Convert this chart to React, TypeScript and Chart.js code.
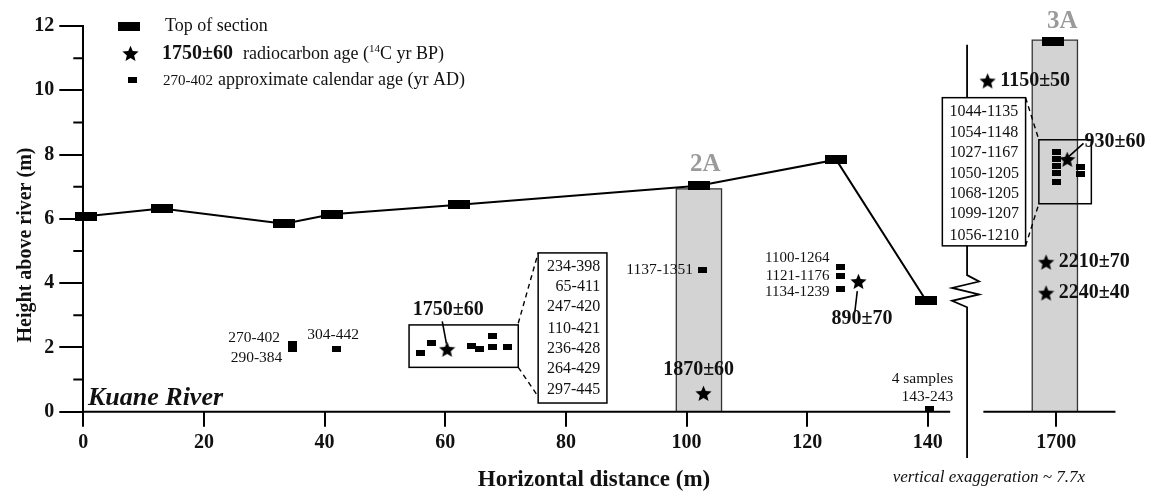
import React, { useEffect, useRef } from 'react';
import { Chart, registerables } from 'chart.js';

Chart.register(...registerables);

// ---------- axis / break ----------
const X_TICKS = [0, 20, 40, 60, 80, 100, 120, 140];
const BREAK_TICK = 1700;
const BREAK_PLOT = 161.3; // plot position of the 1700 m tick (broken axis)
const toPlotX = (x: number) => (x >= 1000 ? x - BREAK_TICK + BREAK_PLOT : x);

// ---------- top of section profile ----------
const sectionX = [0.5, 13.0, 33.3, 41.2, 62.3, 102.0, 124.8, 139.7];
const sectionY = [6.08, 6.32, 5.85, 6.14, 6.44, 7.03, 7.84, 3.46];
const section3AX = [1699.4];
const section3AY = [11.53];

// ---------- measured sections (columns) ----------
const columnNames = ['2A', '3A'];
const columnLeft = [98.3, 1696.0];
const columnRight = [105.8, 1703.5];
const columnTop = [6.93, 11.56];

// ---------- radiocarbon ages ----------
const c14Labels = ['1750±60', '1870±60', '890±70', '1150±50', '930±60', '2210±70', '2240±40'];
const c14X = [60.3, 102.8, 128.5, 1688.6, 1701.8, 1698.3, 1698.3];
const c14Y = [1.94, 0.57, 4.05, 10.29, 7.85, 4.65, 3.69];

// ---------- calendar ages (markers) ----------
const calX = [34.6, 34.6, 41.9, 55.9, 57.7, 64.4, 65.7, 67.9, 67.9, 70.3, 102.7, 125.5, 125.5, 125.5, 140.2,
  1700, 1700, 1700, 1700, 1700, 1704, 1704];
const calY = [2.12, 1.95, 1.94, 1.84, 2.13, 2.05, 1.94, 2.36, 2.02, 2.02, 4.41, 4.49, 4.23, 3.82, 0.08,
  8.07, 7.86, 7.65, 7.42, 7.16, 7.62, 7.40];

// calendar age labels
const cal35Labels = ['270-402', '290-384'];
const cal42Labels = ['304-442'];
const cal60Labels = ['234-398', '65-411', '247-420', '110-421', '236-428', '264-429', '297-445'];
const cal2ALabels = ['1137-1351'];
const cal125Labels = ['1100-1264', '1121-1176', '1134-1239'];
const cal140Labels = ['4 samples', '143-243'];
const cal3ALabels = ['1044-1135', '1054-1148', '1027-1167', '1050-1205', '1068-1205', '1099-1207', '1056-1210'];

const SERIF = "'Liberation Serif', 'DejaVu Serif', serif";

function makeRect(w: number, h: number) {
  const c = document.createElement('canvas');
  c.width = w; c.height = h;
  const g = c.getContext('2d')!;
  g.fillStyle = '#000';
  g.fillRect(0, 0, w, h);
  return c;
}
function makeStar(size: number) {
  const c = document.createElement('canvas');
  c.width = size; c.height = size;
  const g = c.getContext('2d')!;
  const cx = size / 2, cy = size / 2 + 0.7, R = size / 2, r = R * 0.45;
  g.beginPath();
  for (let i = 0; i < 10; i++) {
    const rad = i % 2 === 0 ? R : r;
    const a = -Math.PI / 2 + (i * Math.PI) / 5;
    const x = cx + rad * Math.cos(a), y = cy + rad * Math.sin(a);
    if (i === 0) g.moveTo(x, y); else g.lineTo(x, y);
  }
  g.closePath();
  g.fillStyle = '#000';
  g.fill();
  return c;
}

export default function App() {
  const ref = useRef<HTMLCanvasElement | null>(null);

  useEffect(() => {
    const canvas = ref.current!;
    const bigRect = makeRect(22, 9);
    const smallRect = makeRect(9, 6);
    const star = makeStar(17);

    const colDatasets = columnNames.map((_, i) => ({
      label: 'col' + i,
      data: [
        { x: toPlotX(columnLeft[i]), y: 0 },
        { x: toPlotX(columnLeft[i]), y: columnTop[i] },
        { x: toPlotX(columnRight[i]), y: columnTop[i] },
        { x: toPlotX(columnRight[i]), y: 0 },
      ],
      showLine: true,
      fill: 'origin',
      backgroundColor: '#d3d3d3',
      borderColor: '#333',
      borderWidth: 1.3,
      pointRadius: 0,
      tension: 0,
      order: 10,
      clip: false,
    }));

    const annotPlugin = {
      id: 'annot',
      afterDraw(chart: any) {
        const ctx = chart.ctx as CanvasRenderingContext2D;
        const xs = chart.scales.x, ys = chart.scales.y;
        const px = (x: number) => xs.getPixelForValue(toPlotX(x));
        const ppx = (v: number) => xs.getPixelForValue(v);
        const py = (y: number) => ys.getPixelForValue(y);
        ctx.save();
        ctx.strokeStyle = '#000';
        ctx.fillStyle = '#111';

        // x axis lines (broken)
        ctx.lineWidth = 2;
        ctx.beginPath();
        ctx.moveTo(ppx(0), py(0)); ctx.lineTo(ppx(143.7), py(0));
        ctx.moveTo(px(1687.9), py(0)); ctx.lineTo(px(1709.8), py(0));
        ctx.stroke();

        // minor y ticks
        ctx.lineWidth = 2;
        ctx.beginPath();
        for (let v = 1; v < 12; v += 2) {
          ctx.moveTo(ppx(0) - 10, py(v)); ctx.lineTo(ppx(0), py(v));
        }
        ctx.stroke();

        // break line with zigzag
        const bx = ppx(146.5);
        const zt = py(4.25), zb = py(3.25);
        const zh = zb - zt;
        ctx.lineWidth = 1.8;
        ctx.lineJoin = 'miter';
        ctx.beginPath();
        ctx.moveTo(bx, py(11.42));
        ctx.lineTo(bx, zt);
        ctx.lineTo(bx + 12, zt + zh * 0.2);
        ctx.lineTo(bx - 15, zt + zh * 0.4);
        ctx.lineTo(bx + 12, zt + zh * 0.6);
        ctx.lineTo(bx - 15, zt + zh * 0.8);
        ctx.lineTo(bx, zb);
        ctx.lineTo(bx, py(-1.44));
        ctx.stroke();

        // boxes
        const rect = (x1: number, y1: number, x2: number, y2: number, fill: boolean) => {
          const X1 = px(x1), X2 = px(x2), Y1 = py(y1), Y2 = py(y2);
          if (fill) { ctx.fillStyle = '#fff'; ctx.fillRect(X1, Y1, X2 - X1, Y2 - Y1); }
          ctx.lineWidth = 1.5;
          ctx.strokeStyle = '#000';
          ctx.strokeRect(X1, Y1, X2 - X1, Y2 - Y1);
        };
        const dashed = (x1: number, y1: number, x2: number, y2: number) => {
          ctx.save();
          ctx.setLineDash([5, 4]);
          ctx.lineWidth = 1.4;
          ctx.beginPath(); ctx.moveTo(px(x1), py(y1)); ctx.lineTo(px(x2), py(y2)); ctx.stroke();
          ctx.restore();
        };
        const line = (x1: number, y1: number, x2: number, y2: number) => {
          ctx.lineWidth = 1.6;
          ctx.beginPath(); ctx.moveTo(px(x1), py(y1)); ctx.lineTo(px(x2), py(y2)); ctx.stroke();
        };

        rect(54.0, 2.70, 72.1, 1.38, false);
        rect(75.4, 4.94, 86.8, 0.27, true);
        dashed(72.1, 2.75, 75.4, 4.94);
        dashed(72.1, 1.38, 75.3, 0.5);
        rect(1681.1, 9.77, 1694.9, 5.16, true);
        rect(1697.1, 8.46, 1705.8, 6.47, false);
        dashed(1694.9, 9.77, 1697.1, 8.46);
        dashed(1694.9, 5.16, 1697.1, 6.47);

        line(59.5, 2.81, 60.2, 2.12);
        line(127.9, 3.11, 128.3, 3.75);
        line(1702.0, 7.93, 1704.5, 8.35);

        // texts
        const txt = (s: string, x: number, y: number, align: CanvasTextAlign, font: string, color = '#111') => {
          ctx.font = font;
          ctx.fillStyle = color;
          ctx.textAlign = align;
          ctx.textBaseline = 'middle';
          ctx.fillText(s, px(x), py(y));
        };
        const small = `15.5px ${SERIF}`;
        const boxF = `16px ${SERIF}`;
        const bold = `bold 20px ${SERIF}`;
        txt(cal35Labels[0], 32.6, 2.29, 'right', small);
        txt(cal35Labels[1], 33.0, 1.67, 'right', small);
        txt(cal42Labels[0], 41.4, 2.39, 'center', small);
        const box60Y = [4.51, 3.89, 3.27, 2.59, 1.97, 1.32, 0.68];
        cal60Labels.forEach((s, i) => txt(s, 85.7, box60Y[i], 'right', boxF));
        txt(cal2ALabels[0], 101.05, 4.41, 'right', small);
        const c125Y = [4.78, 4.22, 3.72];
        cal125Labels.forEach((s, i) => txt(s, 123.7, c125Y[i], 'right', `15px ${SERIF}`));
        txt(cal140Labels[0], 144.2, 1.02, 'right', small);
        txt(cal140Labels[1], 144.2, 0.46, 'right', small);
        const box3AY = [9.32, 8.69, 8.04, 7.40, 6.78, 6.16, 5.48];
        cal3ALabels.forEach((s, i) => txt(s, 1682.3, box3AY[i], 'left', boxF));

        txt(c14Labels[0], 60.5, 3.16, 'center', bold);
        txt(c14Labels[1], 102.0, 1.30, 'center', bold);
        txt(c14Labels[2], 129.1, 2.88, 'center', bold);
        txt(c14Labels[3], 1690.7, 10.29, 'left', bold);
        txt(c14Labels[4], 1704.65, 8.40, 'left', bold);
        txt(c14Labels[5], 1700.4, 4.65, 'left', bold);
        txt(c14Labels[6], 1700.4, 3.69, 'left', bold);

        txt(columnNames[0], 103.1, 7.70, 'center', `bold 25px ${SERIF}`, '#9a9a9a');
        txt(columnNames[1], 1701.0, 12.13, 'center', `bold 25px ${SERIF}`, '#9a9a9a');

        // Kuane River
        ctx.font = `italic bold 26px ${SERIF}`;
        ctx.fillStyle = '#111';
        ctx.textAlign = 'left';
        ctx.textBaseline = 'alphabetic';
        ctx.fillText('Kuane River', 88, 405);

        // axis titles
        ctx.font = `bold 23px ${SERIF}`;
        ctx.textAlign = 'center';
        ctx.textBaseline = 'middle';
        ctx.fillText('Horizontal distance (m)', 594, 480);
        ctx.save();
        ctx.translate(26, 245);
        ctx.rotate(-Math.PI / 2);
        ctx.font = `bold 20px ${SERIF}`;
        ctx.fillText('Height above river (m)', 0, 0);
        ctx.restore();

        ctx.font = `italic 17px ${SERIF}`;
        ctx.textAlign = 'right';
        ctx.fillText('vertical exaggeration ~ 7.7x', 1085, 478);

        // legend
        ctx.drawImage(bigRect, 118, 22);
        ctx.drawImage(star, 122, 45);
        ctx.drawImage(smallRect, 128, 77);
        ctx.textAlign = 'left';
        ctx.font = `18px ${SERIF}`;
        ctx.fillText('Top of section', 165, 26);
        ctx.font = `bold 20px ${SERIF}`;
        ctx.fillText('1750±60', 162, 54);
        ctx.font = `18px ${SERIF}`;
        let lx = 243;
        ctx.fillText('radiocarbon age (', lx, 54);
        lx += ctx.measureText('radiocarbon age (').width;
        ctx.font = `11px ${SERIF}`;
        ctx.fillText('14', lx, 49);
        lx += ctx.measureText('14').width;
        ctx.font = `18px ${SERIF}`;
        ctx.fillText('C yr BP)', lx, 54);
        ctx.font = `15px ${SERIF}`;
        ctx.fillText('270-402', 163, 81);
        ctx.font = `18px ${SERIF}`;
        ctx.fillText('approximate calendar age (yr AD)', 218, 80);

        ctx.restore();
      },
    };

    const chart = new Chart(canvas, {
      type: 'scatter',
      data: {
        datasets: [
          ...colDatasets,
          {
            label: 'Top of section',
            data: sectionX.map((x, i) => ({ x: toPlotX(x), y: sectionY[i] })),
            showLine: true,
            borderColor: '#000',
            borderWidth: 2,
            pointStyle: bigRect,
            pointRadius: 6,
            tension: 0,
            order: 5,
            clip: false,
          },
          {
            label: 'Top of section 3A',
            data: section3AX.map((x, i) => ({ x: toPlotX(x), y: section3AY[i] })),
            showLine: false,
            pointStyle: bigRect,
            pointRadius: 6,
            order: 5,
            clip: false,
          },
          {
            label: 'calendar age',
            data: calX.map((x, i) => ({ x: toPlotX(x), y: calY[i] })),
            showLine: false,
            pointStyle: smallRect,
            pointRadius: 4,
            order: 2,
            clip: false,
          },
          {
            label: 'radiocarbon age',
            data: c14X.map((x, i) => ({ x: toPlotX(x), y: c14Y[i] })),
            showLine: false,
            pointStyle: star,
            pointRadius: 8,
            order: 1,
            clip: false,
          },
        ] as any,
      },
      options: {
        responsive: false,
        animation: false,
        devicePixelRatio: 1,
        layout: { padding: { top: 26, right: 14, left: 0, bottom: 0 } },
        plugins: { legend: { display: false }, tooltip: { enabled: false } },
        scales: {
          x: {
            type: 'linear',
            min: 0,
            max: 175,
            afterFit: (s: any) => { s.height = 492 - 411.7; },
            afterBuildTicks: (s: any) => {
              s.ticks = [...X_TICKS.map((v) => ({ value: v })), { value: toPlotX(BREAK_TICK) }];
            },
            ticks: {
              autoSkip: false,
              maxRotation: 0,
              padding: 4,
              color: '#111',
              font: { family: SERIF, size: 20, weight: 'bold' },
              callback: (v: any) => (Math.abs(v - toPlotX(BREAK_TICK)) < 0.01 ? String(BREAK_TICK) : String(v)),
            },
            grid: { drawOnChartArea: false, drawTicks: true, tickLength: 15, color: '#000', lineWidth: 2 },
            border: { display: false },
          },
          y: {
            type: 'linear',
            min: 0,
            max: 12,
            afterFit: (s: any) => { s.width = 83.3; },
            ticks: {
              stepSize: 1,
              padding: 5,
              color: '#111',
              font: { family: SERIF, size: 20, weight: 'bold' },
              callback: (v: any) => (v % 2 === 0 ? String(v) : ''),
            },
            grid: {
              drawOnChartArea: false,
              drawTicks: true,
              tickLength: 24,
              lineWidth: 2,
              color: (c: any) => (c.tick && c.tick.value % 2 === 0 ? '#000' : 'rgba(0,0,0,0)'),
            },
            border: { display: true, color: '#000', width: 2 },
          },
        },
      } as any,
      plugins: [annotPlugin],
    });
    return () => chart.destroy();
  }, []);

  return (
    <div style={{ position: 'absolute', left: 0, top: 0, width: 1153, height: 492, background: '#fff' }}>
      <canvas ref={ref} width={1153} height={492} style={{ display: 'block', width: 1153, height: 492 }} />
    </div>
  );
}
